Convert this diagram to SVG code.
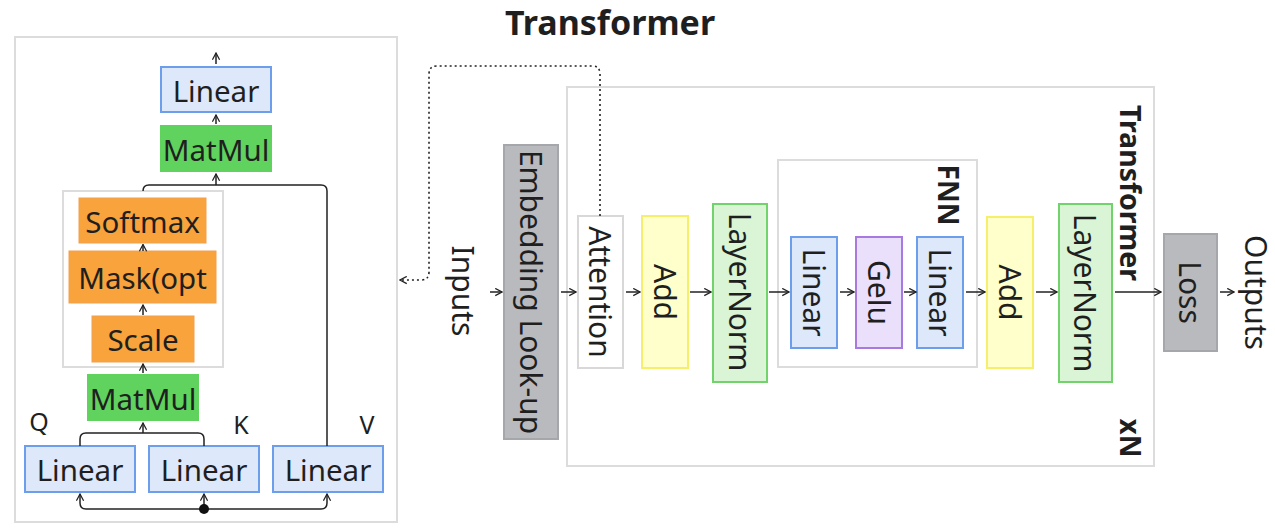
<svg xmlns="http://www.w3.org/2000/svg" width="1275" height="530" viewBox="0 0 1275 530">
<defs>
<marker id="ah" viewBox="0 0 10 10" refX="9" refY="5" markerWidth="9" markerHeight="9" orient="auto-start-reverse" markerUnits="userSpaceOnUse">
<path d="M1.5,1 L9,5 L1.5,9" fill="none" stroke="#222" stroke-width="1.4"/>
</marker>
</defs>
<style>
text{font-family:"Noto Sans","Liberation Sans",sans-serif;fill:#1f1f1f}
.lbl{font-size:29.5px;text-anchor:middle;dominant-baseline:central}
.rl{font-size:30px;text-anchor:middle;dominant-baseline:central}
.bold{font-weight:bold}
.grp{fill:#fff;stroke:#dcdcdc;stroke-width:2}
.lin{fill:#dde8fb;stroke:#6d9eeb;stroke-width:2}
.mm{fill:#5fd35d}
.or{fill:#f8a33b;stroke:#f1a050;stroke-width:1}
.gray{fill:#b9babe;stroke:#a6a7ab;stroke-width:2}
.att{fill:#fff;stroke:#d8d8d8;stroke-width:2}
.add{fill:#ffffcc;stroke:#f6ef6c;stroke-width:2}
.ln{fill:#d9f5d5;stroke:#72d36d;stroke-width:2}
.gelu{fill:#ebe0fb;stroke:#a87ae0;stroke-width:2}
.c{fill:none;stroke:#222;stroke-width:1.5}
.d{fill:none;stroke:#222;stroke-width:1.6;stroke-dasharray:2 3}
</style>
<rect width="1275" height="530" fill="#fff"/>

<!-- left panel -->
<g id="attention-detail">
<rect class="grp" x="15" y="37" width="382" height="485"/>
<rect class="grp" x="63" y="191" width="160" height="176"/>
</g>
<g id="linear-out"><rect class="lin" x="161" y="67" width="110" height="45"/><text class="lbl" x="216" y="90">Linear</text></g>
<g id="matmul-top"><rect class="mm" x="160" y="125" width="112" height="47"/><text class="lbl" x="216" y="149">MatMul</text></g>
<g id="softmax"><rect class="or" x="79" y="198" width="127" height="45"/><text class="lbl" x="142.5" y="221">Softmax</text></g>
<g id="mask"><rect class="or" x="69" y="251" width="147" height="52"/><text class="lbl" x="142.5" y="277.5">Mask(opt</text></g>
<g id="scale"><rect class="or" x="92" y="316" width="102" height="46"/><text class="lbl" x="143" y="339.5">Scale</text></g>
<g id="matmul-bottom"><rect class="mm" x="87" y="374" width="112" height="47"/><text class="lbl" x="143" y="398">MatMul</text></g>
<g id="linear-q"><rect class="lin" x="25" y="446" width="110" height="46"/><text class="lbl" x="80" y="469.5">Linear</text><text x="39" y="431" style="font-size:25px;text-anchor:middle">Q</text></g>
<g id="linear-k"><rect class="lin" x="149" y="446" width="110" height="46"/><text class="lbl" x="204" y="469.5">Linear</text><text x="241" y="434" style="font-size:25px;text-anchor:middle">K</text></g>
<g id="linear-v"><rect class="lin" x="273" y="446" width="110" height="46"/><text class="lbl" x="328" y="469.5">Linear</text><text x="367" y="434" style="font-size:25px;text-anchor:middle">V</text></g>

<!-- right part -->
<text x="610" y="35" class="bold" style="font-size:34px;text-anchor:middle">Transformer</text>
<g id="transformer-block">
<rect class="grp" x="567" y="87" width="587" height="379"/>
<text class="rl bold" transform="translate(1131,193) rotate(90)" style="font-size:28.5px">Transformer</text>
<text class="rl bold" transform="translate(1131,438) rotate(90)" style="font-size:28px">xN</text>
</g>
<g id="fnn">
<rect class="grp" x="778" y="160" width="199" height="207"/>
<text class="rl bold" transform="translate(949,195) rotate(90)" style="font-size:28px">FNN</text>
</g>
<g id="inputs"><text class="rl" transform="translate(463,291) rotate(90)">Inputs</text></g>
<g id="embedding"><rect class="gray" x="504" y="145" width="54" height="294"/><text class="rl" transform="translate(531,292) rotate(90)">Embedding Look-up</text></g>
<g id="attention"><rect class="att" x="578" y="216" width="45" height="152"/><text class="rl" transform="translate(600.5,292) rotate(90)">Attention</text></g>
<g id="add1"><rect class="add" x="642" y="216" width="46" height="152"/><text class="rl" transform="translate(665,292) rotate(90)">Add</text></g>
<g id="layernorm1"><rect class="ln" x="713" y="204" width="54" height="178"/><text class="rl" transform="translate(740,292) rotate(90)">LayerNorm</text></g>
<g id="fnn-linear1"><rect class="lin" x="791" y="237" width="46" height="111"/><text class="rl" transform="translate(814,292.5) rotate(90)">Linear</text></g>
<g id="gelu"><rect class="gelu" x="856" y="237" width="46" height="111"/><text class="rl" transform="translate(879,292.5) rotate(90)">Gelu</text></g>
<g id="fnn-linear2"><rect class="lin" x="917" y="237" width="46" height="111"/><text class="rl" transform="translate(940,292.5) rotate(90)">Linear</text></g>
<g id="add2"><rect class="add" x="987" y="217" width="46" height="151"/><text class="rl" transform="translate(1010,292.5) rotate(90)">Add</text></g>
<g id="layernorm2"><rect class="ln" x="1059" y="204" width="53" height="178"/><text class="rl" transform="translate(1085.5,293) rotate(90)">LayerNorm</text></g>
<g id="loss"><rect class="gray" x="1164" y="234" width="53" height="117"/><text class="rl" transform="translate(1190.5,292.5) rotate(90)">Loss</text></g>
<g id="outputs"><text class="rl" transform="translate(1256,292.5) rotate(90)">Outputs</text></g>

<g id="connectors">
<!-- left -->
<path class="c" d="M216,64 V53" marker-end="url(#ah)"/>
<path class="c" d="M216,124 V115" marker-end="url(#ah)"/>
<path class="c" d="M143,191 Q143,185 149,185 H321 Q327,185 327,191 V446"/>
<path class="c" d="M216,185 V174" marker-end="url(#ah)"/>
<path class="c" d="M143,251 V244.5" marker-end="url(#ah)"/>
<path class="c" d="M143,315 V305" marker-end="url(#ah)"/>
<path class="c" d="M143,373 V364" marker-end="url(#ah)"/>
<path class="c" d="M80,446 V439 Q80,433 86,433 H198 Q204,433 204,439 V446"/>
<path class="c" d="M143,433 V423" marker-end="url(#ah)"/>
<path class="c" d="M86,509 H321"/>
<path class="c" d="M86,509 Q80,509 80,503 V494" marker-end="url(#ah)"/>
<path class="c" d="M321,509 Q327,509 327,503 V494" marker-end="url(#ah)"/>
<path class="c" d="M204,509 V494" marker-end="url(#ah)"/>
<circle cx="204" cy="509" r="5" fill="#111"/>
<!-- right -->
<path class="d" d="M600,216 V74 Q600,66 592,66 H437 Q429,66 429,74 V272 Q429,280 421,280 H400" marker-end="url(#ah)"/>
<path class="c" d="M490,292 H502" marker-end="url(#ah)"/>
<path class="c" d="M561,292 H576" marker-end="url(#ah)"/>
<path class="c" d="M626,292 H640" marker-end="url(#ah)"/>
<path class="c" d="M690,292 H711" marker-end="url(#ah)"/>
<path class="c" d="M769,292 H789" marker-end="url(#ah)"/>
<path class="c" d="M840,292 H854" marker-end="url(#ah)"/>
<path class="c" d="M904,292 H916" marker-end="url(#ah)"/>
<path class="c" d="M966,292 H985" marker-end="url(#ah)"/>
<path class="c" d="M1036,292 H1057" marker-end="url(#ah)"/>
<path class="c" d="M1115,292 H1161" marker-end="url(#ah)"/>
<path class="c" d="M1220,292 H1234" marker-end="url(#ah)"/>
</g>
</svg>
